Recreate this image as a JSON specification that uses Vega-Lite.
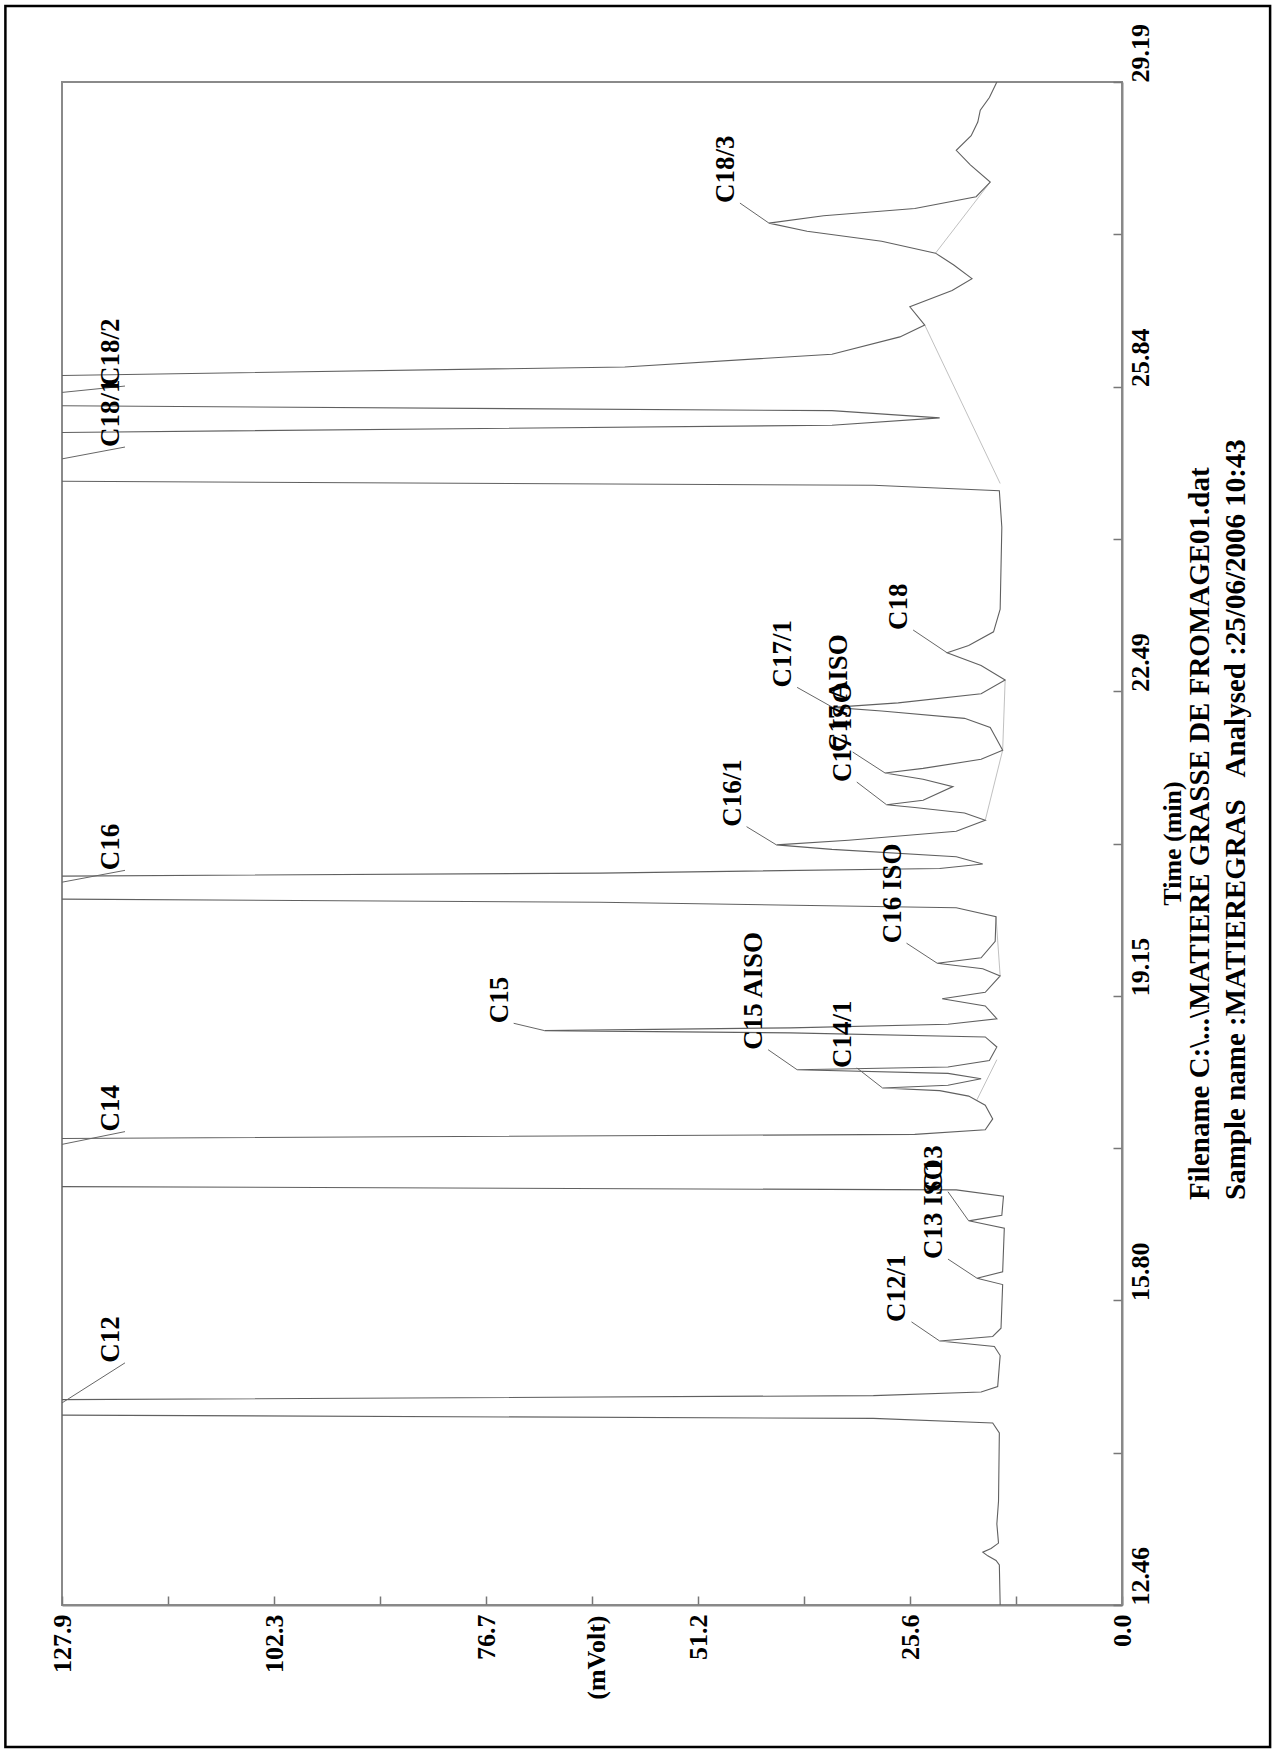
{
  "$schema": "https://vega.github.io/schema/vega-lite/v6.json",
  "width": 1060,
  "height": 1523,
  "autosize": {"type": "none"},
  "padding": {"left": 62, "top": 82, "right": 154, "bottom": 148},
  "background": "white",
  "config": {
    "view": {"stroke": "#8a8a8a", "strokeWidth": 2},
    "font": "Liberation Serif",
    "axis": {"grid": false}
  },
  "datasets": {
    "trace": [
      {"t":12.46,"mv":14.7},{"t":12.9,"mv":14.8},{"t":12.95,"mv":15.2},{"t":13.0,"mv":16.2},{"t":13.04,"mv":16.8},{"t":13.08,"mv":15.8},{"t":13.14,"mv":14.9},{"t":13.35,"mv":15.1},{"t":13.6,"mv":14.9},{"t":14.35,"mv":14.8},
      {"t":14.46,"mv":15.6},{"t":14.51,"mv":30},{"t":14.55,"mv":140},{"t":14.71,"mv":140},{"t":14.76,"mv":30},{"t":14.8,"mv":17},{"t":14.86,"mv":15.0},{"t":15.2,"mv":14.7},{"t":15.3,"mv":15.4},{"t":15.36,"mv":22.0},
      {"t":15.41,"mv":15.6},{"t":15.5,"mv":14.6},{"t":15.98,"mv":14.4},{"t":16.05,"mv":17.5},{"t":16.12,"mv":14.4},{"t":16.6,"mv":14.2},{"t":16.68,"mv":18.5},{"t":16.74,"mv":14.5},{"t":16.95,"mv":14.3},{"t":17.02,"mv":20},
      {"t":17.06,"mv":140},{"t":17.58,"mv":140},{"t":17.63,"mv":25},{"t":17.68,"mv":16.5},{"t":17.8,"mv":15.6},{"t":17.95,"mv":16.5},{"t":18.05,"mv":18.5},{"t":18.11,"mv":22},{"t":18.14,"mv":28.9},{"t":18.17,"mv":21},
      {"t":18.24,"mv":17.0},{"t":18.3,"mv":21},{"t":18.34,"mv":39.2},{"t":18.37,"mv":21},{"t":18.44,"mv":16.0},{"t":18.59,"mv":15.1},{"t":18.7,"mv":16.5},{"t":18.745,"mv":40},{"t":18.77,"mv":69.7},{"t":18.8,"mv":40},
      {"t":18.84,"mv":21},{"t":18.9,"mv":15.1},{"t":19.04,"mv":16.5},{"t":19.12,"mv":21.7},{"t":19.19,"mv":16.5},{"t":19.37,"mv":14.7},{"t":19.45,"mv":16.8},{"t":19.51,"mv":22.3},{"t":19.57,"mv":17},{"t":19.75,"mv":15.3},
      {"t":20.02,"mv":15.2},{"t":20.12,"mv":20},{"t":20.18,"mv":63},{"t":20.22,"mv":140},{"t":20.46,"mv":140},{"t":20.5,"mv":63},{"t":20.55,"mv":22},{"t":20.6,"mv":16.8},{"t":20.68,"mv":20},{"t":20.76,"mv":35},
      {"t":20.81,"mv":41.7},{"t":20.86,"mv":33},{"t":20.96,"mv":20},{"t":21.08,"mv":16.5},{"t":21.16,"mv":19},{"t":21.22,"mv":25},{"t":21.25,"mv":28.4},{"t":21.3,"mv":24},{"t":21.45,"mv":20.4},{"t":21.53,"mv":24},
      {"t":21.6,"mv":28.6},{"t":21.65,"mv":24},{"t":21.75,"mv":17},{"t":21.85,"mv":14.4},{"t":22.0,"mv":15.3},{"t":22.1,"mv":15.9},{"t":22.2,"mv":19},{"t":22.28,"mv":29},{"t":22.32,"mv":34.9},{"t":22.37,"mv":27},
      {"t":22.47,"mv":17},{"t":22.62,"mv":14.1},{"t":22.78,"mv":17},{"t":22.92,"mv":21.1},{"t":23.0,"mv":18.5},{"t":23.15,"mv":15.5},{"t":23.4,"mv":14.7},{"t":24.3,"mv":14.5},{"t":24.7,"mv":14.8},{"t":24.76,"mv":30},
      {"t":24.81,"mv":140},{"t":25.33,"mv":140},{"t":25.42,"mv":35},{"t":25.5,"mv":22},{"t":25.58,"mv":35},{"t":25.64,"mv":140},{"t":25.95,"mv":140},{"t":26.06,"mv":60},{"t":26.2,"mv":35},{"t":26.39,"mv":26.8},
      {"t":26.52,"mv":23.8},{"t":26.72,"mv":25.6},{"t":26.9,"mv":20.5},{"t":27.03,"mv":18.1},{"t":27.18,"mv":20.3},{"t":27.31,"mv":22.5},{"t":27.44,"mv":29},{"t":27.55,"mv":38},{"t":27.64,"mv":42.6},{"t":27.72,"mv":36},
      {"t":27.8,"mv":25},{"t":27.93,"mv":17.6},{"t":28.09,"mv":15.9},{"t":28.28,"mv":18.3},{"t":28.44,"mv":20.0},{"t":28.6,"mv":18.2},{"t":28.75,"mv":17.4},{"t":28.88,"mv":17.1},{"t":29.02,"mv":16.0},{"t":29.19,"mv":15.1}
    ],
    "baselines": [
      {"seg":1,"t":18.01,"mv":17.5},{"seg":1,"t":18.45,"mv":15.1},
      {"seg":2,"t":19.37,"mv":14.7},{"seg":2,"t":20.02,"mv":15.2},
      {"seg":3,"t":21.08,"mv":16.5},{"seg":3,"t":21.85,"mv":14.4},
      {"seg":4,"t":21.85,"mv":14.4},{"seg":4,"t":22.62,"mv":14.1},
      {"seg":5,"t":24.78,"mv":14.7},{"seg":5,"t":26.52,"mv":23.8},
      {"seg":6,"t":27.31,"mv":22.5},{"seg":6,"t":28.09,"mv":15.9}
    ],
    "peaks": [
      {"name":"C12","ta":15.12,"ma":120.3,"tp":14.68,"mp":127.9},
      {"name":"C12/1","ta":15.57,"ma":25.4,"tp":15.36,"mp":22.0},
      {"name":"C13 ISO","ta":16.26,"ma":21.0,"tp":16.05,"mp":17.5},
      {"name":"C13","ta":17.0,"ma":21.0,"tp":16.68,"mp":18.5},
      {"name":"C14","ta":17.66,"ma":120.3,"tp":17.52,"mp":127.9},
      {"name":"C14/1","ta":18.36,"ma":32.0,"tp":18.14,"mp":28.9},
      {"name":"C15 AISO","ta":18.56,"ma":42.7,"tp":18.34,"mp":39.2},
      {"name":"C15","ta":18.85,"ma":73.4,"tp":18.77,"mp":69.7},
      {"name":"C16 ISO","ta":19.73,"ma":26.0,"tp":19.51,"mp":22.3},
      {"name":"C16","ta":20.53,"ma":120.3,"tp":20.4,"mp":127.9},
      {"name":"C16/1","ta":21.01,"ma":45.3,"tp":20.81,"mp":41.7},
      {"name":"C17 ISO","ta":21.5,"ma":32.0,"tp":21.25,"mp":28.4},
      {"name":"C17 AISO","ta":21.83,"ma":32.5,"tp":21.6,"mp":28.6},
      {"name":"C17/1","ta":22.54,"ma":39.2,"tp":22.32,"mp":34.9},
      {"name":"C18","ta":23.17,"ma":25.2,"tp":22.92,"mp":21.1},
      {"name":"C18/1","ta":25.18,"ma":120.3,"tp":25.05,"mp":127.9},
      {"name":"C18/2","ta":25.85,"ma":120.3,"tp":25.78,"mp":127.9},
      {"name":"C18/3","ta":27.86,"ma":46.1,"tp":27.64,"mp":42.6}
    ],
    "notes": [
      {"text":"Filename C:\\...\\MATIERE GRASSE DE FROMAGE01.dat","t":16.91,"mv":-9.4},
      {"text":"Sample name :MATIEREGRAS\u00a0\u00a0\u00a0Analysed :25/06/2006 10:43","t":16.91,"mv":-13.8}
    ]
  },
  "layer": [
    {
      "data": {"values": [{}]},
      "mark": {"type": "rect", "fill": null, "stroke": "black", "strokeWidth": 2.5, "clip": false},
      "encoding": {
        "x": {"datum": 134.73, "type": "quantitative", "scale": {"domain": [0, 127.9], "reverse": true, "nice": false, "zero": false}},
        "x2": {"datum": -17.87},
        "y": {"datum": 30.024, "type": "quantitative", "scale": {"domain": [12.46, 29.19], "nice": false, "zero": false}},
        "y2": {"datum": 10.9}
      }
    },
    {
      "data": {"name": "baselines"},
      "mark": {"type": "line", "color": "#b0b0b0", "strokeWidth": 0.8, "clip": true},
      "encoding": {
        "x": {"field": "mv", "type": "quantitative"},
        "y": {"field": "t", "type": "quantitative"},
        "detail": {"field": "seg"},
        "order": {"field": "t"}
      }
    },
    {
      "data": {"name": "trace"},
      "mark": {"type": "line", "color": "#606060", "strokeWidth": 1.1, "clip": true},
      "encoding": {
        "x": {
          "field": "mv", "type": "quantitative",
          "axis": {
            "orient": "bottom",
            "values": [0, 12.79, 25.58, 38.37, 51.16, 63.95, 76.74, 89.53, 102.32, 115.11, 127.9],
            "labelExpr": "abs(datum.value/25.58 - round(datum.value/25.58)) < 0.01 ? format(datum.value, '.1f') : ''",
            "labelAngle": 270,
            "labelAlign": "right",
            "labelBaseline": "middle",
            "labelFont": "Liberation Serif", "labelFontWeight": "bold", "labelFontSize": 26, "labelColor": "black",
            "tickSize": -9, "tickColor": "#777", "tickWidth": 1.5,
            "labelPadding": 18,
            "domainColor": "#888", "domainWidth": 2,
            "title": "(mVolt)", "titleAngle": 270, "titleAlign": "right", "titleBaseline": "middle",
            "titleX": 534, "titleY": 10,
            "titleFont": "Liberation Serif", "titleFontWeight": "bold", "titleFontSize": 26, "titleColor": "black"
          }
        },
        "y": {
          "field": "t", "type": "quantitative",
          "axis": {
            "orient": "right",
            "values": [12.46, 14.133, 15.806, 17.479, 19.152, 20.825, 22.498, 24.171, 25.844, 27.517, 29.19],
            "labelExpr": "abs((datum.value-12.46)/3.346 - round((datum.value-12.46)/3.346)) < 0.01 ? format(floor(datum.value*100+0.000001)/100, '.2f') : ''",
            "labelAngle": 270, "labelAlign": "left", "labelBaseline": "top",
            "labelFont": "Liberation Serif", "labelFontWeight": "bold", "labelFontSize": 26, "labelColor": "black",
            "tickSize": -9, "tickColor": "#777", "tickWidth": 1.5,
            "labelPadding": 14,
            "domainColor": "#888", "domainWidth": 2,
            "title": "Time (min)", "titleAngle": 270, "titleAlign": "center", "titleBaseline": "middle",
            "titleX": 50, "titleY": 761,
            "titleFont": "Liberation Serif", "titleFontWeight": "bold", "titleFontSize": 26, "titleColor": "black"
          }
        },
        "order": {"field": "t"}
      }
    },
    {
      "data": {"name": "peaks"},
      "mark": {"type": "rule", "color": "#666", "strokeWidth": 1, "clip": false},
      "encoding": {
        "x": {"field": "ma", "type": "quantitative"},
        "y": {"field": "ta", "type": "quantitative"},
        "x2": {"field": "mp"},
        "y2": {"field": "tp"}
      }
    },
    {
      "data": {"name": "peaks"},
      "mark": {"type": "text", "angle": 270, "align": "left", "baseline": "bottom", "font": "Liberation Serif", "fontWeight": "bold", "fontSize": 27, "color": "black", "clip": false},
      "encoding": {
        "x": {"field": "ma", "type": "quantitative"},
        "y": {"field": "ta", "type": "quantitative"},
        "text": {"field": "name"}
      }
    },
    {
      "data": {"name": "notes"},
      "mark": {"type": "text", "angle": 270, "align": "left", "baseline": "middle", "font": "Liberation Serif", "fontWeight": "bold", "fontSize": 29, "color": "black", "clip": false},
      "encoding": {
        "x": {"field": "mv", "type": "quantitative"},
        "y": {"field": "t", "type": "quantitative"},
        "text": {"field": "text"}
      }
    }
  ]
}
